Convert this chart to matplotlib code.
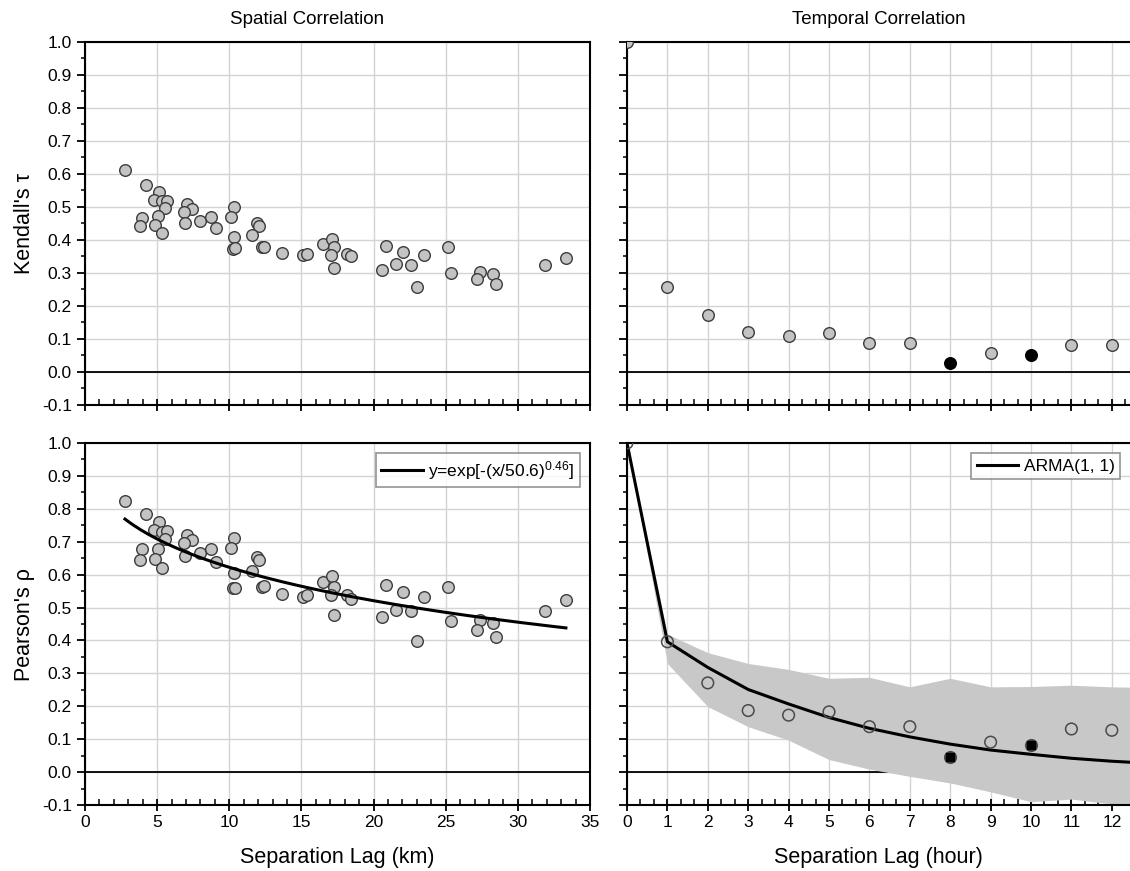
import matplotlib
matplotlib.use("Agg")
import matplotlib.pyplot as plt
import numpy as np
from matplotlib.ticker import MultipleLocator, AutoMinorLocator

plt.rcParams['font.family'] = ['Liberation Sans', 'DejaVu Sans']
plt.rcParams['mathtext.fontset'] = 'custom'
plt.rcParams['mathtext.rm'] = 'Liberation Sans'
plt.rcParams['mathtext.it'] = 'Liberation Sans'

# spatial: separation lag (km), Kendall's tau, Pearson's rho
sep_km = [2.77, 4.23, 5.15, 4.76, 5.34, 5.66, 5.54, 3.95, 5.06, 3.81, 4.85, 5.34,
          7.09, 7.39, 6.86, 6.91, 7.97, 8.75, 9.10, 10.30, 10.12, 10.30, 10.28, 10.40,
          11.90, 12.06, 11.60, 12.27, 12.38, 13.63, 15.08, 15.36, 16.47, 17.09, 17.26,
          17.05, 17.26, 18.18, 18.43, 20.84, 20.56, 21.55, 22.04, 22.60, 22.99, 23.50,
          25.18, 25.36, 27.40, 27.19, 28.30, 28.46, 31.86, 33.33]
tau_sp = [0.612, 0.566, 0.544, 0.521, 0.518, 0.518, 0.496, 0.468, 0.472, 0.441, 0.444, 0.422,
          0.508, 0.494, 0.485, 0.452, 0.459, 0.470, 0.435, 0.500, 0.471, 0.408, 0.373, 0.375,
          0.450, 0.441, 0.414, 0.378, 0.380, 0.362, 0.354, 0.358, 0.388, 0.403, 0.378,
          0.356, 0.314, 0.359, 0.352, 0.383, 0.310, 0.327, 0.365, 0.323, 0.258, 0.356,
          0.378, 0.300, 0.303, 0.281, 0.297, 0.267, 0.323, 0.346]
rho_sp = [0.824, 0.783, 0.759, 0.736, 0.730, 0.733, 0.708, 0.677, 0.677, 0.644, 0.648, 0.621,
          0.719, 0.705, 0.695, 0.657, 0.667, 0.677, 0.638, 0.712, 0.680, 0.604, 0.558, 0.559,
          0.653, 0.645, 0.610, 0.563, 0.566, 0.542, 0.531, 0.537, 0.577, 0.597, 0.563,
          0.537, 0.477, 0.539, 0.526, 0.570, 0.472, 0.494, 0.547, 0.490, 0.397, 0.533,
          0.563, 0.460, 0.462, 0.432, 0.452, 0.411, 0.490, 0.523]

# fitted model y = exp[-(x/a)^b]
fit_a = 50.6
fit_b = 0.46

# temporal: lag (hour)
lags = [0, 1, 2, 3, 4, 5, 6, 7, 8, 9, 10, 11, 12]
tau_t = [1.0, 0.259, 0.174, 0.121, 0.109, 0.117, 0.087, 0.087, 0.028, 0.058, 0.051, 0.083, 0.081]
rho_t = [1.0, 0.396, 0.271, 0.187, 0.173, 0.183, 0.138, 0.138, 0.045, 0.091, 0.081, 0.131, 0.127]
insignificant = [8, 10]

arma_lags = [0, 1, 2, 3, 4, 5, 6, 7, 8, 9, 10, 11, 12, 12.45]
arma_rho = [1.0, 0.396, 0.318, 0.251, 0.207, 0.166, 0.133, 0.107, 0.085, 0.067, 0.054, 0.042, 0.033, 0.030]

band_lags = [0, 1, 2, 3, 4, 5, 6, 7, 8, 9, 10, 11, 12, 12.45]
band_hi = [1.0, 0.419, 0.363, 0.330, 0.312, 0.285, 0.288, 0.259, 0.285, 0.259, 0.260, 0.264, 0.259, 0.258]
band_lo = [1.0, 0.330, 0.199, 0.138, 0.097, 0.038, 0.009, -0.013, -0.033, -0.060, -0.090, -0.082, -0.097, -0.105]

fig = plt.figure(figsize=(11.3, 8.71), dpi=100)
W, H = 1130, 871


def make_ax(x0, y0, x1, y1):
    return fig.add_axes([x0 / W, 1 - y1 / H, (x1 - x0) / W, (y1 - y0) / H])


ax_tl = make_ax(85, 42, 590, 405)
ax_tr = make_ax(627, 42, 1130, 405)
ax_bl = make_ax(85, 443, 590, 805)
ax_br = make_ax(627, 443, 1130, 805)

for ax in [ax_tl, ax_tr, ax_bl, ax_br]:
    ax.set_ylim(-0.1, 1.0)
    ax.yaxis.set_major_locator(MultipleLocator(0.1))
    ax.yaxis.set_minor_locator(MultipleLocator(0.05))
    ax.grid(True, color='#d4d4d4', lw=1.0, zorder=0)
    ax.set_axisbelow(True)
    ax.axhline(0, color='black', lw=1.3, zorder=1)
    for s in ax.spines.values():
        s.set_linewidth(1.5)
    ax.tick_params(axis='y', which='major', direction='out', length=6, width=1.3, labelsize=12.5)
    ax.tick_params(axis='y', which='minor', direction='out', length=3, width=1.1)
    ax.tick_params(axis='x', which='major', direction='inout', length=8, width=1.3, labelsize=12.5)
    ax.tick_params(axis='x', which='minor', direction='in', length=4, width=1.1)

for ax in [ax_tl, ax_bl]:
    ax.set_xlim(0, 35)
    ax.xaxis.set_major_locator(MultipleLocator(5))
    ax.xaxis.set_minor_locator(MultipleLocator(1))
    ax.yaxis.set_major_formatter(matplotlib.ticker.FormatStrFormatter('%.1f'))

for ax in [ax_tr, ax_br]:
    ax.set_xlim(0, 12.45)
    ax.xaxis.set_major_locator(MultipleLocator(1))
    ax.xaxis.set_minor_locator(AutoMinorLocator(3))
    ax.spines['right'].set_visible(False)
    ax.tick_params(axis='y', labelleft=False)

ax_tl.tick_params(axis='x', labelbottom=False)
ax_tr.tick_params(axis='x', labelbottom=False)

mk = dict(s=70, facecolor='#c3c3c3', edgecolor='#3c3c3c', linewidths=1.0, zorder=3, clip_on=True)

# spatial
ax_tl.scatter(sep_km, tau_sp, **mk)
ax_bl.scatter(sep_km, rho_sp, **mk)
xs = np.linspace(min(sep_km), max(sep_km), 200)
ax_bl.plot(xs, np.exp(-(xs / fit_a) ** fit_b), color='black', lw=2.2, zorder=4,
           label=r'y=exp[-(x/50.6)$^{0.46}$]')

# temporal
sig = [i for i, l in enumerate(lags) if l not in insignificant]
ins = [i for i, l in enumerate(lags) if l in insignificant]
ax_tr.scatter([lags[i] for i in sig], [tau_t[i] for i in sig], **mk)
ax_tr.scatter([lags[i] for i in ins], [tau_t[i] for i in ins], s=70, color='black', zorder=3)

ax_br.fill_between(band_lags, band_lo, band_hi, color='#c8c8c8', lw=0, zorder=1.5)
ax_br.plot(arma_lags, arma_rho, color='black', lw=2.2, zorder=4, label='ARMA(1, 1)')
ax_br.scatter([lags[i] for i in sig], [rho_t[i] for i in sig], s=70, facecolor='none',
              edgecolor='#4a4a4a', linewidths=1.1, zorder=5)
ax_br.scatter([lags[i] for i in ins], [rho_t[i] for i in ins], s=70, facecolor='#555555',
              edgecolor='#4a4a4a', linewidths=1.1, zorder=5)
ax_br.scatter([lags[i] for i in ins], [rho_t[i] for i in ins], s=28, marker='s',
              color='black', zorder=6)

for ax in [ax_bl, ax_br]:
    leg = ax.legend(loc='upper right', fontsize=12.5, frameon=True, fancybox=False,
                    edgecolor='#7a7a7a', handlelength=2.4, borderaxespad=0.6,
                    borderpad=0.3, handletextpad=0.3)
    leg.get_frame().set_linewidth(1.2)

ax_tl.set_title('Spatial Correlation', fontsize=13.5, pad=13, x=0.44)
ax_tr.set_title('Temporal Correlation', fontsize=13.5, pad=13)
ax_tl.set_ylabel("Kendall's \u03c4", fontsize=15.5, labelpad=5)
ax_bl.set_ylabel("Pearson's \u03c1", fontsize=15.5, labelpad=5)
ax_bl.set_xlabel('Separation Lag (km)', fontsize=15.5, labelpad=12)
ax_br.set_xlabel('Separation Lag (hour)', fontsize=15.5, labelpad=12)

fig.savefig('out.png', dpi=100)
